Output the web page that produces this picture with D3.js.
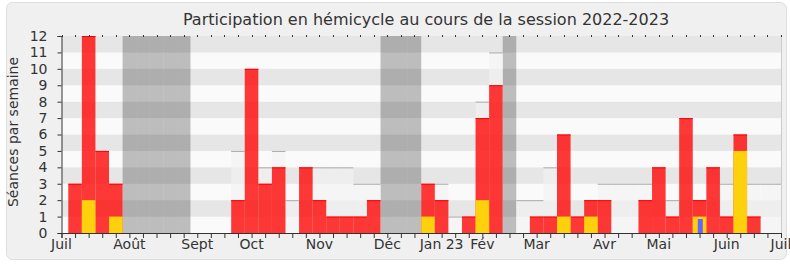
<!DOCTYPE html>
<html>
<head>
<meta charset="utf-8">
<script src="https://cdn.jsdelivr.net/npm/d3@7"></script>
<style>
  body { margin: 0; background: #fff; }
  text { font-family: "DejaVu Sans", sans-serif; fill: #333; }
</style>
</head>
<body>
<script>
// weekly values, week 0 = first week of July 2022
let presence = [3, 12, 5, 3, 0, 0, 0, 0, 0, 0, 0, 0, 2, 10, 3, 4, 0, 4, 2, 1, 1, 1, 2, 0, 0, 0,
  3, 2, 0, 1, 7, 9, 0, 0, 1, 1, 6, 1, 2, 2, 0, 0, 2, 4, 1, 7, 2, 4, 1, 6, 1, 0, 0];
let participation = [0, 2, 0, 1, 0, 0, 0, 0, 0, 0, 0, 0, 0, 0, 0, 0, 0, 0, 0, 0, 0, 0, 0, 0, 0, 0,
  1, 0, 0, 0, 2, 0, 0, 0, 0, 0, 1, 0, 1, 0, 0, 0, 0, 0, 0, 0, 1, 0, 0, 5, 0, 0, 0];
let questions = [0, 0, 0, 0, 0, 0, 0, 0, 0, 0, 0, 0, 0, 0, 0, 0, 0, 0, 0, 0, 0, 0, 0, 0, 0, 0,
  0, 0, 0, 0, 0, 0, 0, 0, 0, 0, 0, 0, 0, 0, 0, 0, 0, 0, 0, 0, 0.85, 0, 0, 0, 0, 0, 0];
let median = [0, 0, 0, 0, 0, 0, 0, 0, 0, 0, 0, 0, 5, 0, 4, 5, 2, 0, 4, 4, 4, 3, 3, 0, 0, 0,
  0, 3, 1, 0, 8, 11, 0, 2, 2, 4, 0, 0, 0, 3, 3, 3, 3, 0, 2, 0, 0, 0, 3, 0, 3, 3, 3];
let vacances = [4, 5, 6, 7, 8, 23, 24, 25, 32];
let monthLabels = ["Juil", "Août", "Sept", "Oct", "Nov", "Déc", "Jan 23", "Fév", "Mar", "Avr", "Mai", "Juin", "Juil"];
let monthWeeks = [0, 5, 10, 14, 19, 24, 28, 31, 35, 40, 44, 49, 53];

let W = 790, H = 267;
let margin = {left: 61.5, right: 781, top: 36, bottom: 233};

let svg = d3.select("body").append("svg")
  .attr("width", W)
  .attr("height", H);

// frame
svg.append("rect")
  .attr("x", 6.5).attr("y", 2.5)
  .attr("width", 780).attr("height", 257)
  .attr("rx", 6)
  .attr("fill", "#f0f0f0")
  .attr("stroke", "#dedede");

let x = d3.scaleLinear().domain([0, 53]).range([margin.left, margin.right]);
let y = d3.scaleLinear().domain([0, 12]).range([margin.bottom, margin.top]);

svg.append("clipPath").attr("id", "plot")
  .append("rect")
  .attr("x", margin.left).attr("y", margin.top - 2)
  .attr("width", margin.right - margin.left).attr("height", margin.bottom - margin.top + 2);

let g = svg.append("g").attr("clip-path", "url(#plot)");

// horizontal stripes
g.selectAll(".band")
  .data(d3.range(12))
  .enter().append("rect")
  .attr("x", margin.left)
  .attr("width", margin.right - margin.left)
  .attr("y", d => y(d + 1))
  .attr("height", d => y(d) - y(d + 1))
  .attr("fill", d => d % 2 ? "#e6e6e6" : "#fafafa");

// parliamentary holidays
let bw = x(1) - x(0);
g.selectAll(".vac")
  .data(vacances)
  .enter().append("rect")
  .attr("x", d => x(d + 0.5))
  .attr("width", bw)
  .attr("y", margin.top)
  .attr("height", margin.bottom - margin.top)
  .attr("fill", "#000")
  .attr("fill-opacity", 0.245);

let weeks = d3.range(presence.length);

// median of all deputies
let med = weeks.filter(i => median[i] > 0);
g.selectAll(".med")
  .data(med)
  .enter().append("rect")
  .attr("x", i => x(i + 0.5))
  .attr("width", bw)
  .attr("y", i => y(median[i]))
  .attr("height", i => y(0) - y(median[i]))
  .attr("fill", "#f2f2f2")
  .attr("fill-opacity", 0.65);
g.selectAll(".medline")
  .data(med)
  .enter().append("line")
  .attr("x1", i => x(i + 0.5))
  .attr("x2", i => x(i + 1.5))
  .attr("y1", i => y(median[i]) + 0.5)
  .attr("y2", i => y(median[i]) + 0.5)
  .attr("stroke", "#aaa");

// presence
let pres = weeks.filter(i => presence[i] > 0);
g.selectAll(".pres")
  .data(pres)
  .enter().append("rect")
  .attr("x", i => x(i + 0.5))
  .attr("width", bw)
  .attr("y", i => y(presence[i]))
  .attr("height", i => y(0) - y(presence[i]))
  .attr("fill", "#ff0000")
  .attr("fill-opacity", 0.78);
g.selectAll(".presline")
  .data(pres)
  .enter().append("line")
  .attr("x1", i => x(i + 0.5))
  .attr("x2", i => x(i + 1.5))
  .attr("y1", i => y(presence[i]) + 0.5)
  .attr("y2", i => y(presence[i]) + 0.5)
  .attr("stroke", "#ff0000");

// participation
g.selectAll(".part")
  .data(weeks.filter(i => participation[i] > 0))
  .enter().append("rect")
  .attr("x", i => x(i + 0.5))
  .attr("width", bw)
  .attr("y", i => y(participation[i]))
  .attr("height", i => y(0) - y(participation[i]))
  .attr("fill", "#ffd00c");

// questions
g.selectAll(".quest")
  .data(weeks.filter(i => questions[i] > 0))
  .enter().append("rect")
  .attr("x", i => x(i + 0.87))
  .attr("width", bw * 0.37)
  .attr("y", i => y(questions[i]))
  .attr("height", i => y(0) - y(questions[i]))
  .attr("fill", "#6666ff");

// right border
svg.append("line")
  .attr("x1", margin.right + 0.5).attr("x2", margin.right + 0.5)
  .attr("y1", margin.top).attr("y2", margin.bottom)
  .attr("stroke", "#ccc");

// top small ticks
svg.selectAll(".toptick")
  .data(d3.range(54))
  .enter().append("line")
  .attr("x1", d => Math.round(x(d)) + 0.5)
  .attr("x2", d => Math.round(x(d)) + 0.5)
  .attr("y1", margin.top - 1).attr("y2", margin.top + 1)
  .attr("stroke", "#333");

// x axis
let xAxis = svg.append("g")
  .attr("transform", "translate(0," + margin.bottom + ")")
  .call(d3.axisBottom(x).tickValues(d3.range(54)).tickSize(5).tickFormat(""));
xAxis.select(".domain").attr("stroke", "#333");
xAxis.selectAll(".tick line").attr("stroke", "#333");

svg.selectAll(".month")
  .data(monthLabels)
  .enter().append("text")
  .attr("x", (d, i) => x(monthWeeks[i]))
  .attr("y", 249)
  .attr("text-anchor", "middle")
  .style("font-size", "14px")
  .text(d => d);

// y axis
let yAxis = svg.append("g")
  .attr("transform", "translate(" + margin.left + ",0)")
  .call(d3.axisLeft(y).ticks(12).tickSize(4).tickPadding(10));
yAxis.select(".domain").attr("stroke", "#333");
yAxis.selectAll(".tick line").attr("stroke", "#333");
yAxis.selectAll(".tick text")
  .style("font-size", "14px")
  .style("font-family", "DejaVu Sans")
  .attr("fill", "#333");

svg.append("text")
  .attr("transform", "translate(18,132) rotate(-90)")
  .attr("text-anchor", "middle")
  .style("font-size", "14px")
  .text("Séances par semaine");

svg.append("text")
  .attr("x", 426)
  .attr("y", 25)
  .attr("text-anchor", "middle")
  .style("font-size", "16px")
  .text("Participation en hémicycle au cours de la session 2022-2023");
</script>
</body>
</html>
